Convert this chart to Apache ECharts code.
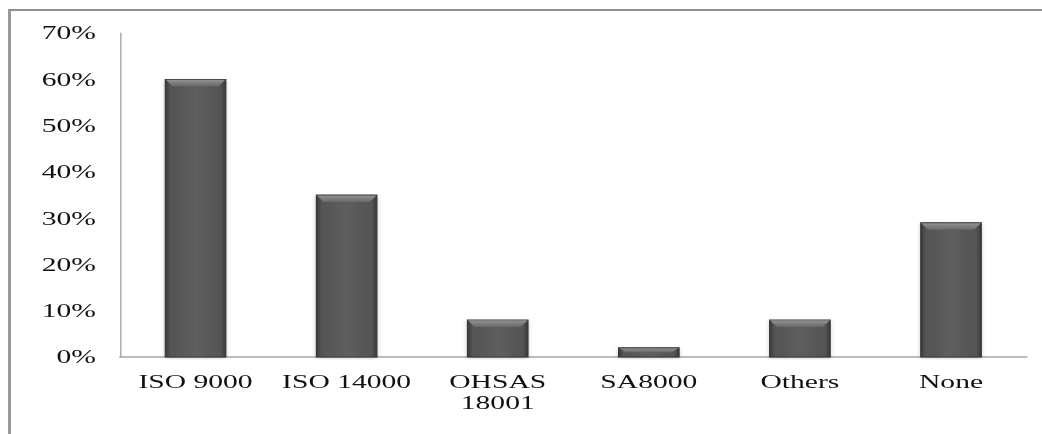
<!DOCTYPE html>
<html>
<head>
<meta charset="utf-8">
<script src="https://cdn.jsdelivr.net/npm/echarts@6/dist/echarts.min.js"></script>
<style>
  html, body { margin: 0; padding: 0; background: #fff; }
  body { width: 1042px; height: 434px; position: relative; overflow: hidden; }
  /* frame: only top and left edges are visible */
  #frame {
    position: absolute; left: 8px; top: 9px; right: -10px; bottom: -10px;
    border-top: 2px solid #8e8e8e; border-left: 3px solid #9a9a9a;
  }
  /* the chart is laid out narrow and widened horizontally, giving the wide lettering */
  #chart {
    position: absolute; left: 0; top: 0; width: 651.25px; height: 434px;
    transform-origin: 0 0; transform: scaleX(1.6);
  }
</style>
</head>
<body>
<div id="frame"></div>
<div id="chart"></div>
<script>
const categories = ['ISO 9000', 'ISO 14000', 'OHSAS\n18001', 'SA8000', 'Others', 'None'];
const shares = [60, 35, 8, 2, 8, 29];          // percent of respondents
const yTicks = { min: 0, max: 70, step: 10 };

const chart = echarts.init(document.getElementById('chart'), null, { renderer: 'svg' });

const serif = '"Liberation Serif", "Times New Roman", serif';

// bevelled bar: body, darker side edges and a lighter top chamfer
function renderBar(params, api) {
  const i = api.value(0);
  const v = api.value(1);
  const top = api.coord([i, v]);
  const base = api.coord([i, 0]);
  const w = api.size([1, 0])[0] * 0.4;
  const x0 = top[0] - w / 2, x1 = top[0] + w / 2;
  const y0 = top[1], y1 = base[1];
  const h = y1 - y0;
  const bev = Math.min(4.5, h / 2);
  const bevY = Math.min(7, h / 2);
  return {
    type: 'group',
    children: [
      {
        type: 'rect',
        shape: { x: x0, y: y0, width: w, height: h },
        style: {
          fill: new echarts.graphic.LinearGradient(0, 0, 1, 0, [
            { offset: 0, color: '#3a3a3a' },
            { offset: 0.08, color: '#545454' },
            { offset: 0.5, color: '#5e5e5e' },
            { offset: 0.92, color: '#545454' },
            { offset: 1, color: '#383838' }
          ]),
          shadowBlur: 3, shadowColor: 'rgba(0,0,0,0.25)', shadowOffsetX: 0, shadowOffsetY: 1
        }
      },
      {
        type: 'polygon',
        shape: { points: [[x0, y0], [x1, y0], [x1 - bev, y0 + bevY], [x0 + bev, y0 + bevY]] },
        style: {
          fill: new echarts.graphic.LinearGradient(0, 0, 0, 1, [
            { offset: 0, color: '#959595' },
            { offset: 1, color: '#686868' }
          ])
        }
      },
      {
        type: 'rect',
        shape: { x: x0, y: y0, width: w, height: h },
        style: { fill: 'none', stroke: '#3a3a3a', lineWidth: 0.8 }
      }
    ]
  };
}

chart.setOption({
  animation: false,
  grid: { left: 75, right: 9.4, top: 33, bottom: 77 },
  xAxis: {
    type: 'category',
    data: categories,
    axisLine: { lineStyle: { color: '#a6a6a6', width: 1.5 } },
    axisTick: { show: false },
    axisLabel: { color: '#111', fontFamily: serif, fontSize: 18.5, margin: 14, lineHeight: 21, interval: 0 }
  },
  yAxis: {
    type: 'value',
    min: yTicks.min, max: yTicks.max, interval: yTicks.step,
    axisLine: { show: true, lineStyle: { color: '#b0b0b0', width: 1 } },
    axisTick: { show: false },
    splitLine: { show: false },
    axisLabel: { color: '#111', fontFamily: serif, fontSize: 18.5, margin: 15, formatter: '{value}%' }
  },
  series: [{
    type: 'custom',
    renderItem: renderBar,
    data: shares.map((v, i) => [i, v]),
    encode: { x: 0, y: 1 }
  }]
});
</script>
</body>
</html>
